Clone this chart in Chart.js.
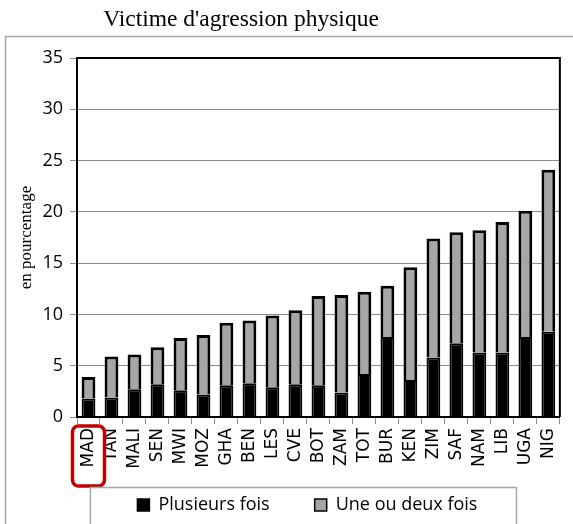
<!DOCTYPE html>
<html>
<head>
<meta charset="utf-8">
<script src="https://cdn.jsdelivr.net/npm/chart.js@4.4.1/dist/chart.umd.min.js"></script>
<style>
  html, body { margin: 0; padding: 0; background: #fff; }
  #wrap { width: 573px; height: 524px; position: relative; }
</style>
</head>
<body>
<div id="wrap"><canvas id="chart"></canvas></div>
<script>
const countries = ['MAD', 'TAN', 'MALI', 'SEN', 'MWI', 'MOZ', 'GHA', 'BEN', 'LES', 'CVE', 'BOT',
    'ZAM', 'TOT', 'BUR', 'KEN', 'ZIM', 'SAF', 'NAM', 'LIB', 'UGA', 'NIG'];
const plusieursFois = [1.8, 1.9, 2.7, 3.2, 2.6, 2.2, 3.1, 3.3, 2.9, 3.2, 3.1,
    2.4, 4.2, 7.8, 3.6, 5.8, 7.2, 6.3, 6.3, 7.8, 8.3];
const totals = [3.9, 5.9, 6.1, 6.8, 7.7, 8.0, 9.2, 9.4, 9.9, 10.4, 11.8,
    11.9, 12.2, 12.8, 14.6, 17.4, 18.0, 18.2, 19.0, 20.1, 24.1];
const uneOuDeux = totals.map((t, i) => +(t - plusieursFois[i]).toFixed(1));
const yTicks = [0, 5, 10, 15, 20, 25, 30, 35];

const titleText = "Victime d'agression physique";
const yTitle = 'en pourcentage';

// frame, title, plot border, red highlight, legend box
const decorPlugin = {
    id: 'decor',
    afterLayout(chart) {
        // legend sits a little left of the plot centre in the original
        const lg = chart.legend;
        const shift = 11;
        lg.left -= shift;
        lg.right -= shift;
        (lg.legendHitBoxes || []).forEach(b => { b.left -= shift; });
    },
    afterDraw(chart) {
        const ctx = chart.ctx;
        const area = chart.chartArea;
        const x = chart.scales.x;
        ctx.save();

        ctx.fillStyle = '#000';
        ctx.font = '23.5px "Liberation Serif", serif';
        ctx.textAlign = 'center';
        ctx.textBaseline = 'middle';
        ctx.fillText(titleText, 241, 20);

        ctx.strokeStyle = '#a6a6a6';
        ctx.lineWidth = 1.5;
        ctx.beginPath();
        ctx.moveTo(5.5, 524);
        ctx.lineTo(5.5, 36.5);
        ctx.lineTo(573, 36.5);
        ctx.stroke();

        ctx.strokeStyle = '#000';
        ctx.lineWidth = 2;
        ctx.beginPath();
        ctx.moveTo(area.left, area.bottom);
        ctx.lineTo(area.left, area.top);
        ctx.lineTo(area.right, area.top);
        ctx.lineTo(area.right, area.bottom);
        ctx.stroke();

        const cx = x.getPixelForValue(0);
        ctx.strokeStyle = '#c00000';
        ctx.lineWidth = 3.5;
        ctx.beginPath();
        ctx.roundRect(cx - 16, 426, 32, 60, 6);
        ctx.stroke();

        const boxes = chart.legend.legendHitBoxes;
        if (boxes && boxes.length) {
            const first = boxes[0];
            const last = boxes[boxes.length - 1];
            ctx.strokeStyle = '#a6a6a6';
            ctx.lineWidth = 1.5;
            ctx.beginPath();
            ctx.moveTo(first.left - 47, 530);
            ctx.lineTo(first.left - 47, 487.5);
            ctx.lineTo(last.left + last.width + 39, 487.5);
            ctx.lineTo(last.left + last.width + 39, 530);
            ctx.stroke();
        }
        ctx.restore();
    }
};

new Chart(document.getElementById('chart'), {
    type: 'bar',
    data: {
        labels: countries,
        datasets: [
            {
                label: 'Plusieurs fois',
                data: plusieursFois,
                backgroundColor: '#000000',
                borderColor: '#000000',
                borderWidth: 2,
                categoryPercentage: 1,
                barPercentage: 0.6
            },
            {
                label: 'Une ou deux fois',
                data: uneOuDeux,
                backgroundColor: '#a6a6a6',
                borderColor: '#000000',
                borderWidth: 3,
                categoryPercentage: 1,
                barPercentage: 0.6
            }
        ]
    },
    options: {
        responsive: true,
        maintainAspectRatio: false,
        animation: false,
        layout: { padding: { top: 58, left: 10, right: 10, bottom: 0 } },
        scales: {
            x: {
                stacked: true,
                offset: true,
                afterFit: s => { s.height = 70; },
                grid: {
                    offset: true,
                    drawOnChartArea: false,
                    color: '#8c8c8c',
                    tickLength: 7,
                    tickWidth: 1
                },
                border: { color: '#000', width: 2 },
                ticks: {
                    autoSkip: false,
                    minRotation: 90,
                    maxRotation: 90,
                    padding: 4,
                    color: '#000',
                    font: { family: '"DejaVu Sans", sans-serif', size: 17 }
                }
            },
            y: {
                stacked: true,
                min: 0,
                max: 35,
                afterFit: s => { s.width = 67; },
                afterBuildTicks: s => { s.ticks = yTicks.map(v => ({ value: v })); },
                grid: {
                    color: ctx => (ctx.tick && (ctx.tick.value === 0 || ctx.tick.value === 35)) ? 'rgba(0,0,0,0)' : '#8c8c8c',
                    tickColor: '#8c8c8c',
                    tickLength: 7,
                    lineWidth: 1
                },
                border: { color: '#000', width: 2 },
                title: {
                    display: true,
                    text: yTitle,
                    color: '#000',
                    padding: { top: 6, bottom: 0 },
                    font: { family: '"Liberation Serif", serif', size: 17 }
                },
                ticks: {
                    padding: 7,
                    color: '#000',
                    font: { family: '"Open Sans", sans-serif', size: 18 }
                }
            }
        },
        plugins: {
            title: { display: false },
            tooltip: { enabled: false },
            legend: {
                position: 'bottom',
                fullSize: false,
                labels: {
                    color: '#000',
                    boxWidth: 12,
                    boxHeight: 12,
                    padding: 9,
                    font: { family: '"Open Sans", sans-serif', size: 18 },
                    // wider gap between the two entries, as in the original
                    generateLabels: chart => chart.data.datasets.map((d, i) => ({
                        text: i === 0 ? d.label + '\u2003\u2003' : d.label,
                        fillStyle: d.backgroundColor,
                        strokeStyle: '#000',
                        lineWidth: 1.5,
                        datasetIndex: i
                    }))
                }
            }
        }
    },
    plugins: [decorPlugin]
});
</script>
</body>
</html>
